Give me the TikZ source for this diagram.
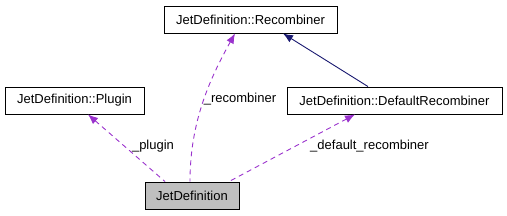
\documentclass[tikz,border=0pt]{standalone}
\usepackage{fontspec}
\setmainfont{Liberation Sans}
\usetikzlibrary{arrows.meta}
\definecolor{memberpurple}{HTML}{9A32CD}
\definecolor{basenavy}{HTML}{191970}
\tikzset{
  classbox/.style={draw, line width=0.9pt, fill=white, minimum height=27pt, inner sep=0pt, align=center},
  focusbox/.style={classbox, fill=black!25},
  usearrow/.style={{Latex[length=10pt, width=8pt]}-, memberpurple, line width=0.9pt, dash pattern=on 5pt off 4pt},
  basearrow/.style={{Latex[length=10pt, width=8pt]}-, basenavy, line width=0.9pt},
  edgelabel/.style={inner sep=1pt}
}
\begin{document}
\begin{tikzpicture}[x=1pt, y=-1pt, every node/.style={font=\fontsize{13}{15}\selectfont}]
  \useasboundingbox (0,0) rectangle (507,216);
  % classes
  \node[classbox, minimum width=173pt] (recomb) at (250.5,19.5) {JetDefinition::Recombiner};
  \node[classbox, minimum width=139pt] (plugin) at (74.5,100.5) {JetDefinition::Plugin};
  \node[classbox, minimum width=215pt] (defrecomb) at (394.5,100.5) {JetDefinition::DefaultRecombiner};
  \node[focusbox, minimum width=94pt] (jetdef) at (192,195.5) {JetDefinition};
  % inheritance
  \draw[basearrow] ([xshift=32.5pt]recomb.south) -- ([xshift=-26.5pt]defrecomb.north);
  % members
  \draw[usearrow] ([xshift=-15.5pt]recomb.south) .. controls +(-25,45) and +(0,-60) .. ([xshift=-2pt]jetdef.north);
  \draw[usearrow] ([xshift=13.5pt]plugin.south) -- ([xshift=-27pt]jetdef.north);
  \draw[usearrow] ([xshift=-39.5pt]defrecomb.south) -- ([xshift=37pt]jetdef.north);
  % labels
  \node[edgelabel] (lplugin) at (153,146) {\_plugin};
  \node[edgelabel] (lrecomb) at (240,99) {\_recombiner};
  \node[edgelabel] (ldefault) at (369.5,146) {\_default\_recombiner};
\end{tikzpicture}
\end{document}
